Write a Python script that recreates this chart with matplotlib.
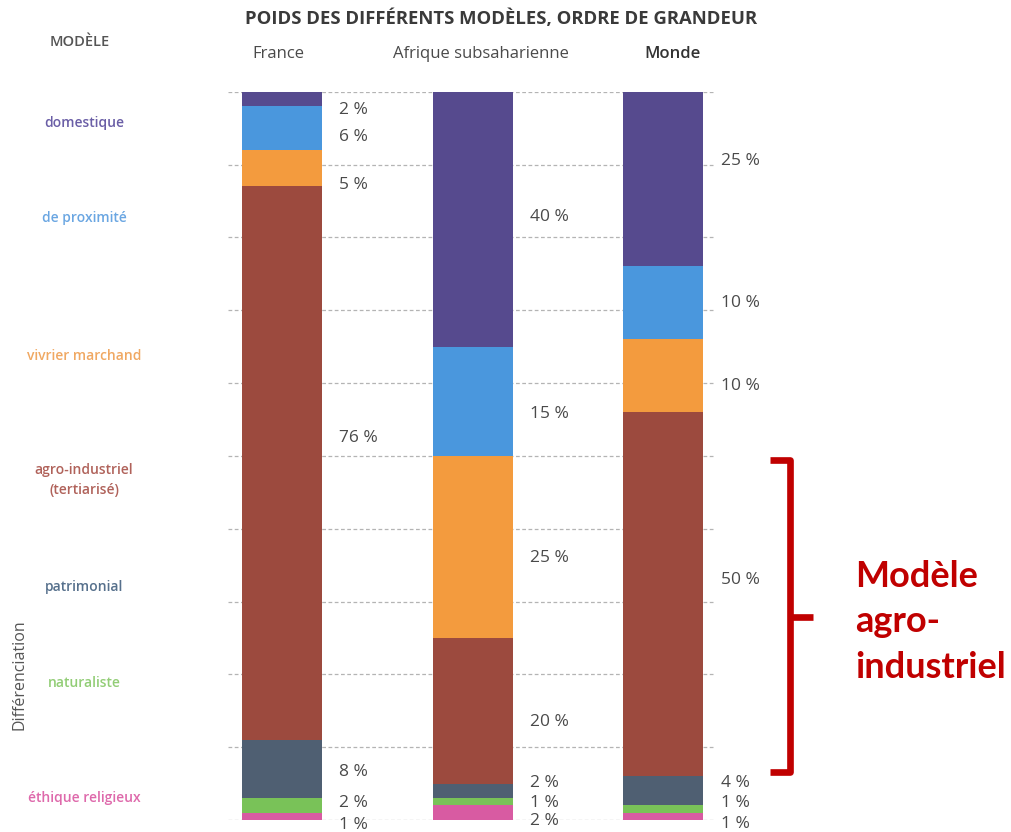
import matplotlib
matplotlib.use('Agg')
import matplotlib.pyplot as plt
from matplotlib.path import Path
from matplotlib.patches import PathPatch

# ---------------- data ----------------
countries = ['France', 'Afrique subsaharienne', 'Monde']
models = ['domestique', 'de proximité', 'vivrier marchand',
          'agro-industriel\n(tertiarisé)', 'patrimonial', 'naturaliste',
          'éthique religieux']
# segment heights as drawn (percent of bar, top to bottom)
france = [2, 6, 5, 76, 8, 2, 1]
afrique = [35, 15, 25, 20, 2, 1, 2]
monde = [24, 10, 10, 50, 4, 1, 1]
# printed labels
france_labels = ['2 %', '6 %', '5 %', '76 %', '8 %', '2 %', '1 %']
afrique_labels = ['40 %', '15 %', '25 %', '20 %', '2 %', '1 %', '2 %']
monde_labels = ['25 %', '10 %', '10 %', '50 %', '4 %', '1 %', '1 %']
title = 'POIDS DES DIFFÉRENTS MODÈLES, ORDRE DE GRANDEUR'
bracket_text = 'Modèle\nagro-\nindustriel'

# ---------------- styles / layout ----------------
bar_colors = ['#564a8e', '#4a97dd', '#f39b3e', '#9c4a3e', '#4f5f72', '#79c258', '#d85ba2']
text_colors = ['#6a5ea6', '#6aa6e2', '#f0a862', '#b0625a', '#56708c', '#92cd76', '#de69ab']
label_pos = [  # vertical positions of value labels (percent from top)
    [2.5, 6.2, 12.8, 47.5, 93.4, 97.7, 100.7],
    [17.2, 44.3, 64.0, 86.6, 94.9, 97.7, 100.2],
    [9.5, 29.0, 40.4, 67.1, 94.9, 97.7, 100.5],
]
model_label_y = [123, 218, 356, 480, 587, 683, 798]  # px from top

W, H = 1011, 832
fig = plt.figure(figsize=(W / 100, H / 100), dpi=100)
fig.patch.set_facecolor('white')

def fx(x):
    return x / W

def fy(y):
    return 1 - y / H

ax_left, ax_right, ax_top, ax_bot = 228, 716, 91.7, 820
ax = fig.add_axes([fx(ax_left), fy(ax_bot), (ax_right - ax_left) / W, (ax_bot - ax_top) / H])
ax.set_xlim(-0.283, 2.276)
ax.set_ylim(100, 0)
ax.axis('off')

for g in range(0, 101, 10):
    ax.axhline(g, color='#b4b4b4', lw=0.9, ls=(0, (3, 2)), zorder=0)

FONT = 'Open Sans'
series = [france, afrique, monde]
labels = [france_labels, afrique_labels, monde_labels]
for i, (vals, labs) in enumerate(zip(series, labels)):
    cum = 0
    for j, v in enumerate(vals):
        ax.bar(i, v, bottom=cum, width=0.42, color=bar_colors[j], zorder=2,
               linewidth=0)
        cum += v
    for j, lab in enumerate(labs):
        ax.text(i + 0.30, label_pos[i][j], lab, ha='left', va='center',
                fontsize=12.5, color='#4a4a4a', family=FONT, clip_on=False)

# headers
fig.text(fx(501), fy(19), title, ha='center', va='center', fontsize=13.3,
         color='#3a3a3a', family=FONT, weight='bold')
header_x = [278, 481, 672]
for c, x in zip(countries, header_x):
    fig.text(fx(x), fy(54), c, ha='center', va='center', fontsize=12,
             color='#333333' if c == 'Monde' else '#4a4a4a', family=FONT,
             weight='semibold' if c == 'Monde' else 'normal')

fig.text(fx(80), fy(42), 'MODÈLE', ha='center', va='center', fontsize=10.5,
         color='#555555', family=FONT, weight='semibold')
for m, y, col in zip(models, model_label_y, text_colors):
    fig.text(fx(84), fy(y), m, ha='center', va='center', fontsize=10,
             color=col, family=FONT, weight='semibold', linespacing=1.5)
fig.text(fx(20), fy(675), 'Différenciation', rotation=90, ha='center', va='center',
         fontsize=11.5, color='#555555', family=FONT)

# red bracket
pts = [(770, 460), (790, 460), (790, 617), (790, 772), (770, 772)]
verts = [(fx(x), fy(y)) for x, y in pts]
path = Path(verts, [Path.MOVETO, Path.LINETO, Path.LINETO, Path.LINETO, Path.LINETO])
fig.patches.append(PathPatch(path, transform=fig.transFigure, fill=False,
                             edgecolor='#c00000', lw=4.8, joinstyle='round',
                             capstyle='butt'))
mid = Path([(fx(790), fy(617)), (fx(813), fy(617))])
fig.patches.append(PathPatch(mid, transform=fig.transFigure, fill=False,
                             edgecolor='#c00000', lw=4.8, capstyle='butt'))
for k, line in enumerate(bracket_text.split('\n')):
    fig.text(fx(855), fy(587 + 45.5 * k), line, ha='left', va='baseline',
             fontsize=26, color='#c00000', family='Lato', weight='bold')

fig.savefig('out.png', dpi=100, facecolor='white')
